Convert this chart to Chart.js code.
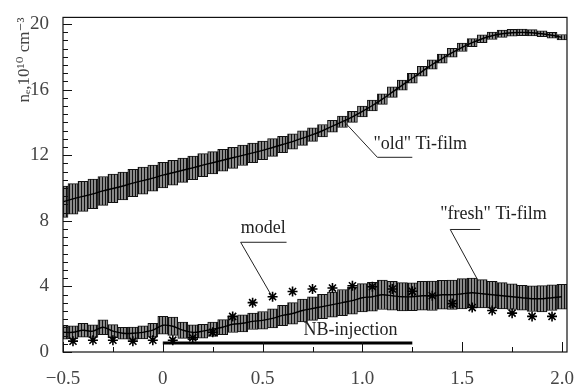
<!DOCTYPE html>
<html>
<head>
<meta charset="utf-8">
<script src="https://cdn.jsdelivr.net/npm/chart.js@4/dist/chart.umd.min.js"></script>
<style>
  html, body { margin: 0; padding: 0; background: #fff; }
</style>
</head>
<body>
<canvas id="plot" width="583" height="390"></canvas>
<script>
// time axis, s
const TIMES = [-0.5, -0.45, -0.4, -0.35, -0.3, -0.25, -0.2, -0.15, -0.1, -0.05,
  0, 0.05, 0.1, 0.15, 0.2, 0.25, 0.3, 0.35, 0.4, 0.45,
  0.5, 0.55, 0.6, 0.65, 0.7, 0.75, 0.8, 0.85, 0.9, 0.95,
  1, 1.05, 1.1, 1.15, 1.2, 1.25, 1.3, 1.35, 1.4, 1.45,
  1.5, 1.55, 1.6, 1.65, 1.7, 1.75, 1.8, 1.85, 1.9, 1.95, 2];

// "old" Ti-film density and error
const OLD_MEAN = [9.16, 9.34, 9.49, 9.64, 9.82, 9.97, 10.12, 10.30, 10.45, 10.60,
  10.78, 10.93, 11.08, 11.23, 11.39, 11.54, 11.69, 11.84, 11.99, 12.14,
  12.29, 12.47, 12.65, 12.83, 13.04, 13.25, 13.49, 13.77, 14.04, 14.34,
  14.67, 15.03, 15.42, 15.84, 16.27, 16.69, 17.11, 17.53, 17.89, 18.25,
  18.58, 18.86, 19.10, 19.28, 19.40, 19.46, 19.49, 19.46, 19.40, 19.31, 19.19];
const OLD_ERR = [0.95, 0.93, 0.92, 0.90, 0.88, 0.87, 0.85, 0.83, 0.82, 0.80,
  0.78, 0.76, 0.74, 0.72, 0.70, 0.68, 0.66, 0.64, 0.62, 0.60,
  0.57, 0.54, 0.50, 0.47, 0.44, 0.41, 0.38, 0.36, 0.35, 0.34,
  0.33, 0.33, 0.32, 0.32, 0.31, 0.30, 0.30, 0.29, 0.28, 0.27,
  0.26, 0.25, 0.24, 0.23, 0.22, 0.21, 0.20, 0.19, 0.18, 0.18, 0.17];

// "fresh" Ti-film density and error
const FRESH_MEAN = [1.20, 1.20, 1.33, 1.27, 1.51, 1.27, 1.14, 1.14, 1.20, 1.33,
  1.63, 1.57, 1.33, 1.20, 1.27, 1.39, 1.51, 1.69, 1.75, 1.87,
  1.93, 2.05, 2.23, 2.35, 2.53, 2.65, 2.77, 2.89, 3.01, 3.13,
  3.31, 3.37, 3.49, 3.43, 3.37, 3.37, 3.43, 3.43, 3.49, 3.49,
  3.55, 3.61, 3.55, 3.49, 3.43, 3.37, 3.31, 3.25, 3.25, 3.31, 3.37];
const FRESH_ERR = [0.42, 0.40, 0.42, 0.38, 0.45, 0.40, 0.36, 0.38, 0.40, 0.42,
  0.55, 0.56, 0.50, 0.45, 0.42, 0.44, 0.46, 0.50, 0.52, 0.50,
  0.54, 0.58, 0.62, 0.66, 0.70, 0.72, 0.74, 0.76, 0.80, 0.82,
  0.86, 0.88, 0.90, 0.88, 0.86, 0.85, 0.88, 0.90, 0.88, 0.90,
  0.92, 0.90, 0.86, 0.82, 0.80, 0.78, 0.76, 0.78, 0.80, 0.78, 0.76];

// model points
const MODEL_T = [-0.45, -0.35, -0.25, -0.15, -0.05, 0.05, 0.15, 0.25, 0.35, 0.45,
  0.55, 0.65, 0.75, 0.85, 0.95, 1.05, 1.15, 1.25, 1.35, 1.45,
  1.55, 1.65, 1.75, 1.85, 1.95];
const MODEL_N = [0.66, 0.72, 0.72, 0.66, 0.72, 0.72, 0.87, 1.20, 2.17, 3.01,
  3.37, 3.69, 3.84, 3.90, 4.04, 3.98, 3.84, 3.70, 3.43, 2.95,
  2.71, 2.53, 2.37, 2.17, 2.17];

// neutral beam injection interval
const NB_T = [0, 1.25];
const NB_LEVEL = 0.55;

const X_LABELS = [-0.5, 0, 0.5, 1, 1.5, 2];
const Y_LABELS = [0, 4, 8, 12, 16, 20];

const SERIF = '"Liberation Serif", "DejaVu Serif", serif';

const ctx = document.getElementById("plot").getContext("2d");

const stripes = () => {
  const c = document.createElement("canvas");
  c.width = 3;
  c.height = 1;
  const g = c.getContext("2d");
  g.fillStyle = "#8a8a8a";
  g.fillRect(0, 0, 3, 1);
  g.fillStyle = "#111";
  g.fillRect(0, 0, 1, 1);
  return ctx.createPattern(c, "repeat");
};

const band = (mean, err) => TIMES.map((t, i) => ({ x: t, y: [mean[i] - err[i], mean[i] + err[i]] }));
const centre = (mean) => TIMES.map((t, i) => ({ x: t, y: mean[i] }));

// frame and inward tick marks
const frame = {
  id: "frame",
  afterDraw(chart) {
    const { ctx: c, chartArea: a, scales: { x, y } } = chart;
    c.save();
    c.strokeStyle = "#111";
    c.lineWidth = 1.2;
    c.strokeRect(a.left, a.top, a.right - a.left, a.bottom - a.top);
    c.lineWidth = 1;
    c.beginPath();
    for (let k = 0; k <= 40; k++) {
      const v = k * 0.5;
      const p = Math.round(y.getPixelForValue(v)) + 0.5;
      const len = v % 4 === 0 ? 9 : 5;
      c.moveTo(a.left, p);
      c.lineTo(a.left + len, p);
    }
    for (let k = -2; k <= 8; k++) {
      const v = k * 0.25;
      const p = Math.round(x.getPixelForValue(v)) + 0.5;
      const len = k % 2 === 0 ? 10 : 5;
      c.moveTo(p, a.bottom);
      c.lineTo(p, a.bottom - len);
    }
    c.stroke();
    c.restore();
  }
};

// text labels with leader lines
const notes = {
  id: "notes",
  afterDatasetsDraw(chart) {
    const { ctx: c, scales: { x, y } } = chart;
    const px = (t) => x.getPixelForValue(t);
    const py = (v) => y.getPixelForValue(v);
    c.save();
    c.font = "18px " + SERIF;
    c.fillStyle = "#222";
    c.strokeStyle = "#222";
    c.lineWidth = 1;
    c.textBaseline = "middle";
    const note = (text, tx, ty, ux0, ux1, uy, ex, ey) => {
      c.fillText(text, px(tx), py(ty));
      c.beginPath();
      c.moveTo(px(ux1), py(uy));
      c.lineTo(px(ux0), py(uy));
      c.lineTo(px(ex), py(ey));
      c.stroke();
    };
    note('"old" Ti-film', 1.055, 12.65, 1.075, 1.25, 11.87, 0.9, 14.16);
    note("model", 0.39, 7.53, 0.39, 0.62, 6.69, 0.545, 3.43);
    note('"fresh" Ti-film', 1.39, 8.37, 1.44, 1.59, 7.47, 1.58, 4.34);
    c.fillText("NB-injection", px(0.705), py(1.35));
    c.restore();
  }
};

const chart = new Chart(ctx, {
  type: "line",
  data: {
    datasets: [
      {
        type: "bar",
        data: band(OLD_MEAN, OLD_ERR),
        backgroundColor: stripes(),
        borderColor: "#111",
        borderWidth: 1,
        borderSkipped: false,
        barThickness: 10,
        grouped: false,
        order: 5
      },
      {
        type: "bar",
        data: band(FRESH_MEAN, FRESH_ERR),
        backgroundColor: stripes(),
        borderColor: "#111",
        borderWidth: 1,
        borderSkipped: false,
        barThickness: 10,
        grouped: false,
        order: 5
      },
      {
        data: centre(OLD_MEAN),
        borderColor: "#000",
        borderWidth: 1.4,
        pointRadius: 0,
        tension: 0.3,
        order: 3
      },
      {
        data: centre(FRESH_MEAN),
        borderColor: "#000",
        borderWidth: 1.4,
        pointRadius: 0,
        tension: 0.3,
        order: 3
      },
      {
        type: "scatter",
        data: MODEL_T.map((t, i) => ({ x: t, y: MODEL_N[i] })),
        pointStyle: "star",
        pointRadius: 5,
        borderColor: "#000",
        borderWidth: 1.6,
        order: 1
      },
      {
        data: NB_T.map((t) => ({ x: t, y: NB_LEVEL })),
        borderColor: "#000",
        borderWidth: 3,
        pointRadius: 0,
        order: 1
      }
    ]
  },
  options: {
    responsive: false,
    animation: false,
    layout: { padding: { left: 0, right: 16, top: 14, bottom: 0 } },
    plugins: {
      legend: { display: false },
      tooltip: { enabled: false }
    },
    scales: {
      x: {
        type: "linear",
        min: -0.5,
        max: 2.025,
        offset: false,
        grid: { display: false },
        border: { display: false },
        afterBuildTicks: (s) => { s.ticks = X_LABELS.map((v) => ({ value: v })); },
        afterFit: (s) => { s.height = 38; },
        ticks: {
          autoSkip: false,
          maxRotation: 0,
          padding: 8,
          color: "#444",
          font: { family: SERIF, size: 19 },
          callback: (v) => (v === 0 ? "0" : v < 0 ? "\u2212" + Math.abs(v).toFixed(1) : v.toFixed(1))
        }
      },
      y: {
        type: "linear",
        min: 0,
        max: 20.4,
        grid: { display: false },
        border: { display: false },
        afterBuildTicks: (s) => { s.ticks = Y_LABELS.map((v) => ({ value: v })); },
        afterFit: (s) => { s.width = 63; },
        ticks: {
          padding: 6,
          color: "#444",
          font: { family: SERIF, size: 19 }
        },
        title: {
          display: true,
          text: "n\u2091,10\u00B9\u2070 cm\u207B\u00B3",
          align: "end",
          color: "#444",
          font: { family: SERIF, size: 17 },
          padding: { top: 14, bottom: 0 }
        }
      }
    }
  },
  plugins: [frame, notes]
});
</script>
</body>
</html>
